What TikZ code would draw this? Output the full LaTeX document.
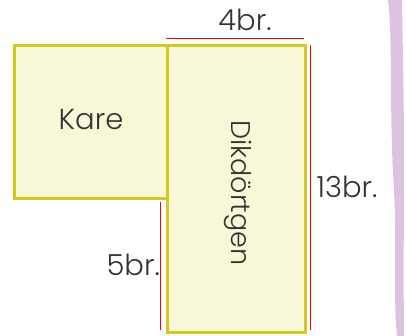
\documentclass[tikz,border=0pt]{standalone}
\usepackage{fontspec}
\setmainfont{Poppins}[UprightFont={* Light}]
\usepackage{tikz}
\usepackage{xcolor}
\definecolor{boxfill}{HTML}{F8F8D8}
\definecolor{boxline}{HTML}{D2CA1E}
\definecolor{brush}{HTML}{DCC4E0}
\tikzset{
    shape-box/.style = {draw=boxline, fill=boxfill, line width=2.6pt, rectangle, inner sep=0pt},
    measure/.style = {draw=red, line width=0.8pt},
    big-text/.style = {font=\fontsize{29}{29}\selectfont, text=black!80, inner sep=0pt},
}

\begin{document}
\begin{tikzpicture}[x=1pt, y=-1pt]
\useasboundingbox (0,0) rectangle (406,336);
% brush stroke on the right
\fill[brush] (388,0) .. controls (393,40) and (389,120) .. (394,190)
    .. controls (397,250) and (393,300) .. (397,336) -- (404,336)
    .. controls (403,250) and (405,150) .. (403,60) -- (402,0) -- cycle;
% the two shapes
\node[shape-box, minimum width=153pt, minimum height=153pt, anchor=north west] (kare) at (13,44) {};
\node[big-text] (kare-text) at (91,119) {Kare};
\node[shape-box, minimum width=138pt, minimum height=287pt, anchor=north west] (dik) at (166,44) {};
\node[big-text, rotate=-90, font=\fontsize{27}{27}\selectfont] (dik-text) at (238,193) {Dikdörtgen};
% measurements
\coordinate (top-a) at (166,38);
\coordinate (top-b) at (304,38);
\coordinate (right-a) at (310,45);
\coordinate (right-b) at (310,330);
\coordinate (left-a) at (160,202);
\coordinate (left-b) at (160,330);
\draw[measure] (top-a) -- (top-b);
\draw[measure] (right-a) -- (right-b);
\draw[measure] (left-a) -- (left-b);
\node[big-text] (four) at (245,20) {4br.};
\node[big-text] (thirteen) at (347,187) {13br.};
\node[big-text, anchor=east] (five) at (160,265) {5br.};
\end{tikzpicture}
\end{document}
